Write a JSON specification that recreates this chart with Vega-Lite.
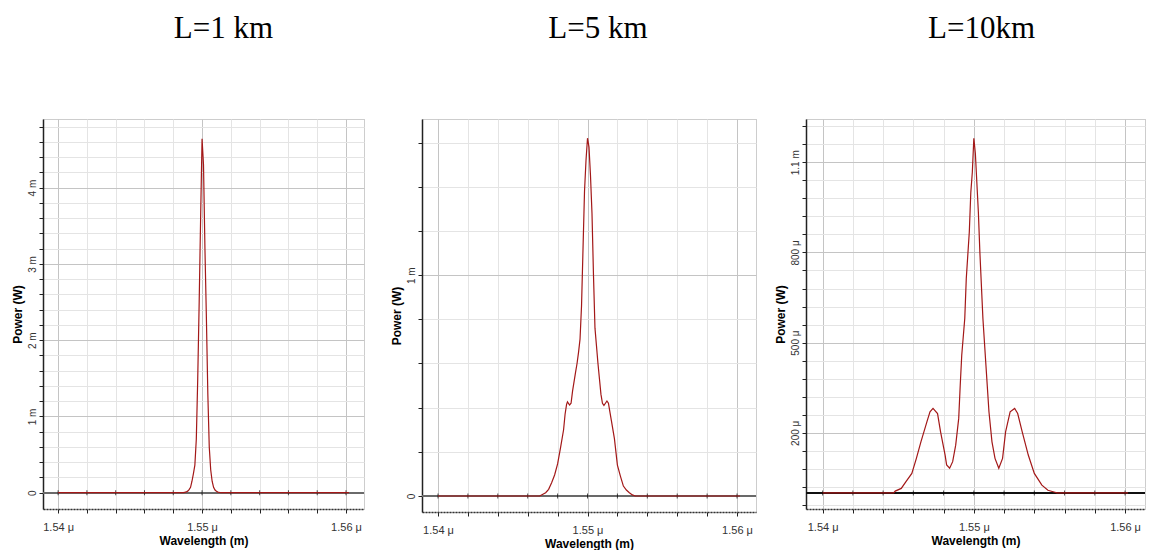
{
  "$schema": "https://vega.github.io/schema/vega-lite/v6.json",
  "background": "white",
  "padding": {"left": 10, "top": 12, "right": 0, "bottom": 0},
  "config": {
    "view": {"stroke": "#9a9a9a", "strokeDash": [1, 1]},
    "title": {"font": "Liberation Serif", "fontSize": 31, "fontWeight": "normal", "color": "#000", "anchor": "middle", "offset": 74},
    "axis": {"grid": true, "labelFont": "Liberation Sans", "labelFontSize": 10, "labelColor": "#333", "titleFont": "Liberation Sans", "titleFontSize": 12, "titleFontWeight": "bold", "titleColor": "#000", "domainColor": "#333", "tickColor": "#222", "tickSize": 4, "labelFlush": false, "labelOverlap": false},
    "axisX": {"labelFontSize": 11, "labelPadding": 8, "titlePadding": 3, "domainDash": [2, 1], "domainWidth": 1.5},
    "axisY": {"labelAngle": -90, "labelAlign": "center", "labelBaseline": "bottom", "labelPadding": 2, "titlePadding": 3, "domainWidth": 1.5, "domainColor": "#222"}
  },
  "datasets": {
    "spectra": [
      {"panel": "L=1 km", "wavelength_um": 1.54, "power_mW": 0},
      {"panel": "L=1 km", "wavelength_um": 1.5487, "power_mW": 0},
      {"panel": "L=1 km", "wavelength_um": 1.5488, "power_mW": 0.005},
      {"panel": "L=1 km", "wavelength_um": 1.5489, "power_mW": 0.01},
      {"panel": "L=1 km", "wavelength_um": 1.549, "power_mW": 0.02},
      {"panel": "L=1 km", "wavelength_um": 1.5491, "power_mW": 0.04},
      {"panel": "L=1 km", "wavelength_um": 1.5492, "power_mW": 0.07},
      {"panel": "L=1 km", "wavelength_um": 1.5493, "power_mW": 0.15},
      {"panel": "L=1 km", "wavelength_um": 1.5494, "power_mW": 0.25},
      {"panel": "L=1 km", "wavelength_um": 1.5495, "power_mW": 0.36},
      {"panel": "L=1 km", "wavelength_um": 1.5496, "power_mW": 0.7},
      {"panel": "L=1 km", "wavelength_um": 1.5497, "power_mW": 1.5},
      {"panel": "L=1 km", "wavelength_um": 1.5498, "power_mW": 2.5},
      {"panel": "L=1 km", "wavelength_um": 1.5499, "power_mW": 3.6},
      {"panel": "L=1 km", "wavelength_um": 1.55, "power_mW": 4.64},
      {"panel": "L=1 km", "wavelength_um": 1.5501, "power_mW": 4.3},
      {"panel": "L=1 km", "wavelength_um": 1.5502, "power_mW": 3.2},
      {"panel": "L=1 km", "wavelength_um": 1.5503, "power_mW": 2.3},
      {"panel": "L=1 km", "wavelength_um": 1.5504, "power_mW": 1.3},
      {"panel": "L=1 km", "wavelength_um": 1.5505, "power_mW": 0.6},
      {"panel": "L=1 km", "wavelength_um": 1.5506, "power_mW": 0.3},
      {"panel": "L=1 km", "wavelength_um": 1.5507, "power_mW": 0.15},
      {"panel": "L=1 km", "wavelength_um": 1.5508, "power_mW": 0.07},
      {"panel": "L=1 km", "wavelength_um": 1.5509, "power_mW": 0.035},
      {"panel": "L=1 km", "wavelength_um": 1.551, "power_mW": 0.018},
      {"panel": "L=1 km", "wavelength_um": 1.5511, "power_mW": 0.008},
      {"panel": "L=1 km", "wavelength_um": 1.5512, "power_mW": 0.003},
      {"panel": "L=1 km", "wavelength_um": 1.5513, "power_mW": 0},
      {"panel": "L=1 km", "wavelength_um": 1.5602, "power_mW": 0},

      {"panel": "L=5 km", "wavelength_um": 1.54, "power_mW": 0},
      {"panel": "L=5 km", "wavelength_um": 1.5468, "power_mW": 0},
      {"panel": "L=5 km", "wavelength_um": 1.5472, "power_mW": 0.015},
      {"panel": "L=5 km", "wavelength_um": 1.5474, "power_mW": 0.03},
      {"panel": "L=5 km", "wavelength_um": 1.5476, "power_mW": 0.06},
      {"panel": "L=5 km", "wavelength_um": 1.5478, "power_mW": 0.095},
      {"panel": "L=5 km", "wavelength_um": 1.548, "power_mW": 0.145},
      {"panel": "L=5 km", "wavelength_um": 1.5482, "power_mW": 0.22},
      {"panel": "L=5 km", "wavelength_um": 1.5484, "power_mW": 0.3},
      {"panel": "L=5 km", "wavelength_um": 1.5485, "power_mW": 0.37},
      {"panel": "L=5 km", "wavelength_um": 1.5486, "power_mW": 0.415},
      {"panel": "L=5 km", "wavelength_um": 1.54866, "power_mW": 0.426},
      {"panel": "L=5 km", "wavelength_um": 1.5488, "power_mW": 0.412},
      {"panel": "L=5 km", "wavelength_um": 1.5489, "power_mW": 0.42},
      {"panel": "L=5 km", "wavelength_um": 1.549, "power_mW": 0.475},
      {"panel": "L=5 km", "wavelength_um": 1.5492, "power_mW": 0.56},
      {"panel": "L=5 km", "wavelength_um": 1.5493, "power_mW": 0.6},
      {"panel": "L=5 km", "wavelength_um": 1.5494, "power_mW": 0.65},
      {"panel": "L=5 km", "wavelength_um": 1.5495, "power_mW": 0.71},
      {"panel": "L=5 km", "wavelength_um": 1.5496, "power_mW": 0.86},
      {"panel": "L=5 km", "wavelength_um": 1.5497, "power_mW": 1.12},
      {"panel": "L=5 km", "wavelength_um": 1.5498, "power_mW": 1.38},
      {"panel": "L=5 km", "wavelength_um": 1.5499, "power_mW": 1.52},
      {"panel": "L=5 km", "wavelength_um": 1.55, "power_mW": 1.62},
      {"panel": "L=5 km", "wavelength_um": 1.5501, "power_mW": 1.58},
      {"panel": "L=5 km", "wavelength_um": 1.5502, "power_mW": 1.45},
      {"panel": "L=5 km", "wavelength_um": 1.5503, "power_mW": 1.28},
      {"panel": "L=5 km", "wavelength_um": 1.5504, "power_mW": 1.0},
      {"panel": "L=5 km", "wavelength_um": 1.5505, "power_mW": 0.76},
      {"panel": "L=5 km", "wavelength_um": 1.5506, "power_mW": 0.68},
      {"panel": "L=5 km", "wavelength_um": 1.5507, "power_mW": 0.6},
      {"panel": "L=5 km", "wavelength_um": 1.5508, "power_mW": 0.53},
      {"panel": "L=5 km", "wavelength_um": 1.5509, "power_mW": 0.46},
      {"panel": "L=5 km", "wavelength_um": 1.551, "power_mW": 0.42},
      {"panel": "L=5 km", "wavelength_um": 1.5511, "power_mW": 0.41},
      {"panel": "L=5 km", "wavelength_um": 1.5512, "power_mW": 0.42},
      {"panel": "L=5 km", "wavelength_um": 1.5513, "power_mW": 0.43},
      {"panel": "L=5 km", "wavelength_um": 1.5514, "power_mW": 0.42},
      {"panel": "L=5 km", "wavelength_um": 1.5515, "power_mW": 0.38},
      {"panel": "L=5 km", "wavelength_um": 1.5516, "power_mW": 0.34},
      {"panel": "L=5 km", "wavelength_um": 1.5518, "power_mW": 0.26},
      {"panel": "L=5 km", "wavelength_um": 1.552, "power_mW": 0.14},
      {"panel": "L=5 km", "wavelength_um": 1.5522, "power_mW": 0.09},
      {"panel": "L=5 km", "wavelength_um": 1.5524, "power_mW": 0.045},
      {"panel": "L=5 km", "wavelength_um": 1.5526, "power_mW": 0.027},
      {"panel": "L=5 km", "wavelength_um": 1.5528, "power_mW": 0.015},
      {"panel": "L=5 km", "wavelength_um": 1.553, "power_mW": 0.005},
      {"panel": "L=5 km", "wavelength_um": 1.5532, "power_mW": 0},
      {"panel": "L=5 km", "wavelength_um": 1.5602, "power_mW": 0},

      {"panel": "L=10km", "wavelength_um": 1.54, "power_mW": 0},
      {"panel": "L=10km", "wavelength_um": 1.5447, "power_mW": 0},
      {"panel": "L=10km", "wavelength_um": 1.5448, "power_mW": 0.006},
      {"panel": "L=10km", "wavelength_um": 1.5452, "power_mW": 0.015},
      {"panel": "L=10km", "wavelength_um": 1.5455, "power_mW": 0.037},
      {"panel": "L=10km", "wavelength_um": 1.5459, "power_mW": 0.065},
      {"panel": "L=10km", "wavelength_um": 1.5462, "power_mW": 0.115},
      {"panel": "L=10km", "wavelength_um": 1.5465, "power_mW": 0.17},
      {"panel": "L=10km", "wavelength_um": 1.5469, "power_mW": 0.237},
      {"panel": "L=10km", "wavelength_um": 1.5471, "power_mW": 0.27},
      {"panel": "L=10km", "wavelength_um": 1.5473, "power_mW": 0.281},
      {"panel": "L=10km", "wavelength_um": 1.5476, "power_mW": 0.264},
      {"panel": "L=10km", "wavelength_um": 1.5478, "power_mW": 0.203},
      {"panel": "L=10km", "wavelength_um": 1.5481, "power_mW": 0.126},
      {"panel": "L=10km", "wavelength_um": 1.5482, "power_mW": 0.093},
      {"panel": "L=10km", "wavelength_um": 1.5484, "power_mW": 0.082},
      {"panel": "L=10km", "wavelength_um": 1.5486, "power_mW": 0.104},
      {"panel": "L=10km", "wavelength_um": 1.5488, "power_mW": 0.159},
      {"panel": "L=10km", "wavelength_um": 1.549, "power_mW": 0.248},
      {"panel": "L=10km", "wavelength_um": 1.5491, "power_mW": 0.358},
      {"panel": "L=10km", "wavelength_um": 1.5492, "power_mW": 0.458},
      {"panel": "L=10km", "wavelength_um": 1.5494, "power_mW": 0.58},
      {"panel": "L=10km", "wavelength_um": 1.5495, "power_mW": 0.713},
      {"panel": "L=10km", "wavelength_um": 1.5497, "power_mW": 0.868},
      {"panel": "L=10km", "wavelength_um": 1.5498, "power_mW": 1.0},
      {"panel": "L=10km", "wavelength_um": 1.5499, "power_mW": 1.067},
      {"panel": "L=10km", "wavelength_um": 1.55, "power_mW": 1.18},
      {"panel": "L=10km", "wavelength_um": 1.5501, "power_mW": 1.13},
      {"panel": "L=10km", "wavelength_um": 1.5503, "power_mW": 0.934},
      {"panel": "L=10km", "wavelength_um": 1.5504, "power_mW": 0.8},
      {"panel": "L=10km", "wavelength_um": 1.5506, "power_mW": 0.58},
      {"panel": "L=10km", "wavelength_um": 1.5508, "power_mW": 0.425},
      {"panel": "L=10km", "wavelength_um": 1.551, "power_mW": 0.27},
      {"panel": "L=10km", "wavelength_um": 1.5512, "power_mW": 0.17},
      {"panel": "L=10km", "wavelength_um": 1.5514, "power_mW": 0.115},
      {"panel": "L=10km", "wavelength_um": 1.55165, "power_mW": 0.082},
      {"panel": "L=10km", "wavelength_um": 1.5519, "power_mW": 0.115},
      {"panel": "L=10km", "wavelength_um": 1.5521, "power_mW": 0.203},
      {"panel": "L=10km", "wavelength_um": 1.5524, "power_mW": 0.27},
      {"panel": "L=10km", "wavelength_um": 1.5527, "power_mW": 0.281},
      {"panel": "L=10km", "wavelength_um": 1.5529, "power_mW": 0.264},
      {"panel": "L=10km", "wavelength_um": 1.5532, "power_mW": 0.203},
      {"panel": "L=10km", "wavelength_um": 1.5536, "power_mW": 0.126},
      {"panel": "L=10km", "wavelength_um": 1.554, "power_mW": 0.065},
      {"panel": "L=10km", "wavelength_um": 1.5545, "power_mW": 0.026},
      {"panel": "L=10km", "wavelength_um": 1.5549, "power_mW": 0.009},
      {"panel": "L=10km", "wavelength_um": 1.5553, "power_mW": 0.003},
      {"panel": "L=10km", "wavelength_um": 1.5555, "power_mW": 0},
      {"panel": "L=10km", "wavelength_um": 1.5602, "power_mW": 0}
    ],
    "xticks": [
      {"wavelength_um": 1.54}, {"wavelength_um": 1.542}, {"wavelength_um": 1.544}, {"wavelength_um": 1.546},
      {"wavelength_um": 1.548}, {"wavelength_um": 1.55}, {"wavelength_um": 1.552}, {"wavelength_um": 1.554},
      {"wavelength_um": 1.556}, {"wavelength_um": 1.558}, {"wavelength_um": 1.56}
    ]
  },
  "spacing": 23,
  "hconcat": [
    {
      "width": 321, "height": 390,
      "title": {"text": "L=1 km", "dx": 20},
      "layer": [
        {"data": {"name": "xticks"}, "mark": {"type": "rule", "color": "#6a6a6a", "strokeWidth": 1.5}, "encoding": {"y": {"datum": 0, "type": "quantitative", "axis": {"title": "Power (W)", "grid": true}}}},
        {"data": {"name": "xticks"}, "mark": {"type": "tick", "orient": "vertical", "size": 5, "thickness": 1, "color": "#000"},
         "encoding": {"x": {"field": "wavelength_um", "type": "quantitative", "axis": {"title": "Wavelength (m)", "grid": true}}, "y": {"datum": 0, "type": "quantitative", "axis": {"title": "Power (W)", "grid": true}}}},
        {"data": {"name": "spectra"}, "transform": [{"filter": "datum.panel === 'L=1 km'"}],
         "mark": {"type": "line", "color": "#a31818", "strokeWidth": 1.2},
         "encoding": {
           "x": {"field": "wavelength_um", "type": "quantitative", "scale": {"domain": [1.53895, 1.56125], "nice": false, "zero": false},
                 "axis": {"title": "Wavelength (m)", "grid": true, "tickCount": 200, "values": [1.54, 1.542, 1.544, 1.546, 1.548, 1.55, 1.552, 1.554, 1.556, 1.558, 1.56],
                          "labelExpr": "abs(datum.value*100 - round(datum.value*100)) < 1e-6 ? format(datum.value, '.2f') + ' μ' : ''",
                          "gridColor": {"condition": {"test": "abs(datum.value*100 - round(datum.value*100)) < 1e-6", "value": "#c4c4c4"}, "value": "#e4e4e4"}}},
           "y": {"field": "power_mW", "type": "quantitative", "scale": {"domain": [-0.214, 4.9], "nice": false, "zero": false},
                 "axis": {"title": "Power (W)", "grid": true, "tickCount": 200, "values": [0, 0.2, 0.4, 0.6, 0.8, 1, 1.2, 1.4, 1.6, 1.8, 2, 2.2, 2.4, 2.6, 2.8, 3, 3.2, 3.4, 3.6, 3.8, 4, 4.2, 4.4, 4.6, 4.8],
                          "labelExpr": "abs(datum.value - round(datum.value)) < 1e-6 ? (datum.value == 0 ? '0' : format(datum.value, 'd') + ' m') : ''",
                          "gridColor": {"condition": {"test": "abs(datum.value - round(datum.value)) < 1e-6", "value": "#c4c4c4"}, "value": "#e4e4e4"}}}
         }}
      ]
    },
    {
      "spacing": 15,
      "hconcat": [
        {
          "width": 334, "height": 393,
          "title": {"text": "L=5 km", "dx": 9},
          "layer": [
            {"data": {"name": "xticks"}, "mark": {"type": "rule", "color": "#6a6a6a", "strokeWidth": 1.5}, "encoding": {"y": {"datum": 0, "type": "quantitative", "axis": {"title": "Power (W)", "grid": true}}}},
            {"data": {"name": "xticks"}, "mark": {"type": "tick", "orient": "vertical", "size": 5, "thickness": 1, "color": "#000"},
             "encoding": {"x": {"field": "wavelength_um", "type": "quantitative", "axis": {"title": "Wavelength (m)", "grid": true}}, "y": {"datum": 0, "type": "quantitative", "axis": {"title": "Power (W)", "grid": true}}}},
            {"data": {"name": "spectra"}, "transform": [{"filter": "datum.panel === 'L=5 km'"}],
             "mark": {"type": "line", "color": "#a31818", "strokeWidth": 1.2},
             "encoding": {
               "x": {"field": "wavelength_um", "type": "quantitative", "scale": {"domain": [1.53893, 1.56127], "nice": false, "zero": false},
                     "axis": {"title": "Wavelength (m)", "grid": true, "tickCount": 200, "values": [1.54, 1.542, 1.544, 1.546, 1.548, 1.55, 1.552, 1.554, 1.556, 1.558, 1.56],
                              "labelExpr": "abs(datum.value*100 - round(datum.value*100)) < 1e-6 ? format(datum.value, '.2f') + ' μ' : ''",
                              "gridColor": {"condition": {"test": "abs(datum.value*100 - round(datum.value*100)) < 1e-6", "value": "#c4c4c4"}, "value": "#e4e4e4"}}},
               "y": {"field": "power_mW", "type": "quantitative", "scale": {"domain": [-0.0725, 1.707], "nice": false, "zero": false},
                     "axis": {"title": "Power (W)", "grid": true, "tickCount": 200, "values": [0, 0.2, 0.4, 0.6, 0.8, 1, 1.2, 1.4, 1.6],
                              "labelExpr": "abs(datum.value - round(datum.value)) < 1e-6 ? (datum.value == 0 ? '0' : format(datum.value, 'd') + ' m') : ''",
                              "gridColor": {"condition": {"test": "abs(datum.value - round(datum.value)) < 1e-6", "value": "#c4c4c4"}, "value": "#e4e4e4"}}}
             }}
          ]
        },
        {
          "width": 339, "height": 390,
          "title": {"text": "L=10km", "dx": 6},
          "layer": [
            {"data": {"name": "xticks"}, "mark": {"type": "rule", "color": "#111", "strokeWidth": 1.3}, "encoding": {"y": {"datum": 0, "type": "quantitative", "axis": {"title": "Power (W)", "grid": true}}}},
            {"data": {"name": "xticks"}, "mark": {"type": "tick", "orient": "vertical", "size": 5, "thickness": 1, "color": "#000"},
             "encoding": {"x": {"field": "wavelength_um", "type": "quantitative", "axis": {"title": "Wavelength (m)", "grid": true}}, "y": {"datum": 0, "type": "quantitative", "axis": {"title": "Power (W)", "grid": true}}}},
            {"data": {"name": "spectra"}, "transform": [{"filter": "datum.panel === 'L=10km'"}],
             "mark": {"type": "line", "color": "#a31818", "strokeWidth": 1.2},
             "encoding": {
               "x": {"field": "wavelength_um", "type": "quantitative", "scale": {"domain": [1.5389, 1.56132], "nice": false, "zero": false},
                     "axis": {"title": "Wavelength (m)", "grid": true, "tickCount": 200, "values": [1.54, 1.542, 1.544, 1.546, 1.548, 1.55, 1.552, 1.554, 1.556, 1.558, 1.56],
                              "labelExpr": "abs(datum.value*100 - round(datum.value*100)) < 1e-6 ? format(datum.value, '.2f') + ' μ' : ''",
                              "gridColor": {"condition": {"test": "abs(datum.value*100 - round(datum.value*100)) < 1e-6", "value": "#c4c4c4"}, "value": "#e4e4e4"}}},
               "y": {"field": "power_mW", "type": "quantitative", "scale": {"domain": [-0.0535, 1.244], "nice": false, "zero": false},
                     "axis": {"title": "Power (W)", "grid": true, "tickCount": 200, "values": [-0.04, 0.02, 0.08, 0.14, 0.2, 0.26, 0.32, 0.38, 0.44, 0.5, 0.56, 0.62, 0.68, 0.74, 0.8, 0.86, 0.92, 0.98, 1.04, 1.1, 1.16, 1.22],
                              "labelExpr": "abs(datum.value - 0.2) < 1e-6 ? '200 μ' : abs(datum.value - 0.5) < 1e-6 ? '500 μ' : abs(datum.value - 0.8) < 1e-6 ? '800 μ' : abs(datum.value - 1.1) < 1e-6 ? '1.1 m' : ''",
                              "gridColor": {"condition": {"test": "abs(datum.value - 0.2) < 1e-6 || abs(datum.value - 0.5) < 1e-6 || abs(datum.value - 0.8) < 1e-6 || abs(datum.value - 1.1) < 1e-6", "value": "#c4c4c4"}, "value": "#e4e4e4"}}}
             }}
          ]
        }
      ]
    }
  ]
}
